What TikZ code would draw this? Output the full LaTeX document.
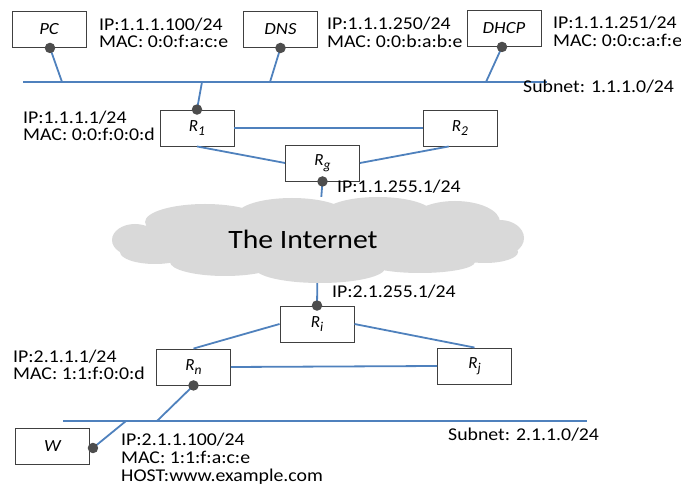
\documentclass[tikz,border=0pt]{standalone}
\usepackage{fontspec}
\usepackage{graphicx}
\setmainfont{Carlito}
\usetikzlibrary{shapes.geometric,calc}
\definecolor{linkblue}{HTML}{4F81BD}
\definecolor{dotgray}{HTML}{4D4D4D}
\definecolor{boxgray}{HTML}{404040}
\definecolor{cloudgray}{HTML}{D9D9D9}
\newcommand{\rsub}[1]{\textit{R}\raisebox{-0.45ex}{\fontsize{13.5}{13.5}\selectfont #1}}
\newcommand{\wtxt}[1]{\scalebox{1.1}[1]{\begin{tabular}{@{}l@{}}#1\end{tabular}}}
\begin{document}
\begin{tikzpicture}[x=1pt,y=-1pt,
  devbox/.style={draw=boxgray, line width=0.9pt, minimum width=74pt, minimum height=36pt, inner sep=0pt, font=\fontsize{17}{17}\selectfont\itshape},
  info/.style={anchor=west, inner sep=0pt, font=\fontsize{18}{17.5}\selectfont},
  link/.style={draw=linkblue, line width=1.8pt},
  port/.style={circle, fill=dotgray, minimum size=10.5pt, inner sep=0pt},
  puff/.style={fill=cloudgray},
]
\useasboundingbox (0,0) rectangle (681,486);

% cloud (union of puffs)
\fill[puff] (318,240) ellipse [x radius=200, y radius=28];
\fill[puff] (205,222) ellipse [x radius=60, y radius=18];
\fill[puff] (292,215) ellipse [x radius=55, y radius=17];
\fill[puff] (378,214) ellipse [x radius=55, y radius=17];
\fill[puff] (455,222) ellipse [x radius=45, y radius=21];
\fill[puff] (500,238) ellipse [x radius=24, y radius=18];
\fill[puff] (135,240) ellipse [x radius=23, y radius=16];
\fill[puff] (155,252) ellipse [x radius=35, y radius=12];
\fill[puff] (225,262) ellipse [x radius=55, y radius=14];
\fill[puff] (320,268) ellipse [x radius=65, y radius=15];
\fill[puff] (420,262) ellipse [x radius=55, y radius=11];
\fill[puff] (485,252) ellipse [x radius=33, y radius=11];
\node[ellipse, minimum width=412pt, minimum height=86pt, inner sep=0pt] (inet) at (318,240) {};
\node[inner sep=0pt, font=\fontsize{26.5}{28}\selectfont] (inettxt) at (303,239) {\scalebox{1.12}[1]{The Internet}};

% devices
\node[devbox] (pc) at (49,29.5) {\scalebox{1.1}[1]{PC}};
\node[devbox] (dns) at (280.5,29.5) {\scalebox{1.1}[1]{DNS}};
\node[devbox] (dhcp) at (504,28.5) {\scalebox{1.1}[1]{DHCP}};
\node[devbox] (r1) at (197,128) {\rsub{1}};
\node[devbox] (r2) at (460,128) {\rsub{2}};
\node[devbox] (rg) at (322.5,163) {\rsub{\textit{g}}};
\node[devbox] (ri) at (317,324) {\rsub{\textit{i}}};
\node[devbox] (rn) at (193.5,367) {\rsub{\textit{n}}};
\node[devbox] (rj) at (474.5,366) {\rsub{\textit{j}}};
\node[devbox] (w) at (52.5,446) {\scalebox{1.1}[1]{W}};

% buses
\coordinate (tbl) at (23,82);
\coordinate (tbr) at (547,82);
\coordinate (tpc) at (62,82);
\coordinate (tdns) at (270,82);
\coordinate (tdhcp) at (486,82);
\coordinate (tr1) at (202,82);
\coordinate (bbl) at (63,421);
\coordinate (bbr) at (587,421);
\coordinate (brn) at (157,421);
\coordinate (bw) at (126,421);
\draw[link] (tbl) -- (tbr);
\draw[link] (bbl) -- (bbr);

% ports
\coordinate (pcp) at ($(pc.south)+(1,0)$);
\coordinate (dnsp) at (dns.south);
\coordinate (dhcpp) at ($(dhcp.south)+(-2,0)$);
\coordinate (r1p) at (r1.north);
\coordinate (rgp) at (rg.south);
\coordinate (rip) at (ri.north);
\coordinate (rnp) at (rn.south);
\coordinate (wp) at ($(w.east)+(3,2)$);

% links
\draw[link] (pcp) -- (tpc);
\draw[link] (dnsp) -- (tdns);
\draw[link] (dhcpp) -- (tdhcp);
\draw[link] (r1p) -- (tr1);
\draw[link] (r1.east) -- (r2.west);
\draw[link] (r1.south) -- (rg.west);
\draw[link] ($(r2.south west)!0.35!(r2.south east)$) -- (rg.east);
\draw[link] (rgp) -- (inet);
\draw[link] (inet) -- (rip);
\draw[link] (ri.west) -- (rn.north);
\draw[link] (ri.east) -- (rj.north);
\draw[link] (rn.east) -- (rj.west);
\draw[link] (rnp) -- (brn);
\draw[link] (wp) -- (bw);

\foreach \p in {pcp,dnsp,dhcpp,r1p,rgp,rip,rnp,wp}
  \node[port] at (\p) {};

% labels
\node[info] (lpc) at (99,35.5) {\wtxt{IP:1.1.1.100/24\\MAC: 0:0:f:a:c:e}};
\node[info] (ldns) at (327,35) {\wtxt{IP:1.1.1.250/24\\MAC: 0:0:b:a:b:e}};
\node[info] (ldhcp) at (553,34) {\wtxt{IP:1.1.1.251/24\\MAC: 0:0:c:a:f:e}};
\node[info] (lsub1) at (523,89) {\wtxt{Subnet: 1.1.1.0/24}};
\node[info] (lr1) at (23,128.5) {\wtxt{IP:1.1.1.1/24\\MAC: 0:0:f:0:0:d}};
\node[info] (lrg) at (337,189) {\wtxt{IP:1.1.255.1/24}};
\node[info] (lri) at (332,294) {\wtxt{IP:2.1.255.1/24}};
\node[info] (lrn) at (13,367.5) {\wtxt{IP:2.1.1.1/24\\MAC: 1:1:f:0:0:d}};
\node[info] (lw) at (121,460) {\wtxt{IP:2.1.1.100/24\\MAC: 1:1:f:a:c:e\\HOST:www.example.com}};
\node[info] (lsub2) at (448,437) {\wtxt{Subnet: 2.1.1.0/24}};
\end{tikzpicture}
\end{document}
